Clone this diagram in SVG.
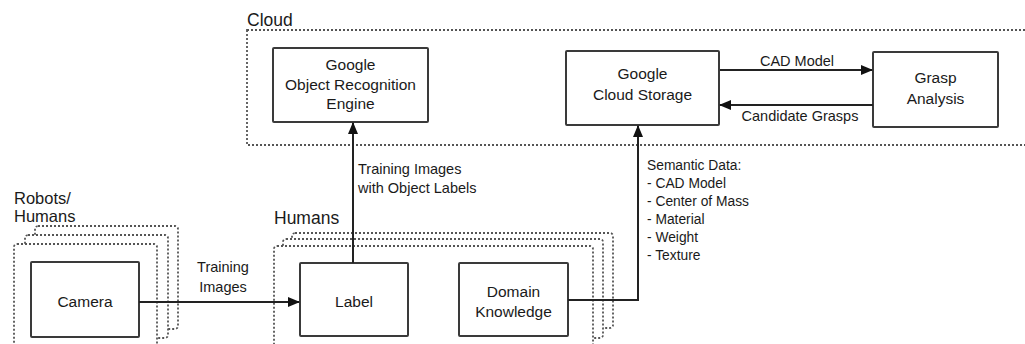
<svg xmlns="http://www.w3.org/2000/svg" width="1025" height="344" viewBox="0 0 1025 344">
<style>
text{font-family:"Liberation Sans",Arial,sans-serif;fill:#1a1a1a}
.box{fill:#fff;stroke:#3a3a3a;stroke-width:2}
.bt{font-size:15.5px;text-anchor:middle}
.lt{font-size:14.5px}
.hd{font-size:17.5px}
.dash{fill:#fff;stroke:#555;stroke-width:1.8;stroke-dasharray:2 2}
.con{fill:none;stroke:#222;stroke-width:2}
</style>
<defs>
<marker id="ah" markerWidth="12" markerHeight="10" refX="11" refY="5" orient="auto" markerUnits="userSpaceOnUse">
<path d="M0,0 L12,5 L0,10 Z" fill="#111"/>
</marker>
</defs>
<g id="cloud">
<rect class="dash" x="247" y="30" width="800" height="115" style="fill:none"/>
<text class="hd" x="247" y="26">Cloud</text>
</g>
<g id="robots-group">
<rect class="dash" x="35" y="226" width="143" height="103" rx="3"/>
<rect class="dash" x="25" y="235" width="143" height="103" rx="3"/>
<rect class="dash" x="14" y="244" width="143" height="110" rx="3"/>
<text class="hd" x="14" y="204" style="font-size:16.5px">Robots/</text>
<text class="hd" x="14" y="222" style="font-size:16.5px">Humans</text>
</g>
<g id="humans-group">
<rect class="dash" x="292" y="233" width="321" height="95" rx="3"/>
<rect class="dash" x="283" y="239" width="320" height="99" rx="3"/>
<rect class="dash" x="274" y="246" width="319" height="110" rx="3"/>
<text class="hd" x="274" y="224">Humans</text>
</g>
<g id="ore">
<rect class="box" x="273" y="48" width="155" height="74" rx="1"/>
<text class="bt" x="350.5" y="70">Google</text>
<text class="bt" x="350.5" y="90">Object Recognition</text>
<text class="bt" x="350.5" y="109">Engine</text>
</g>
<g id="storage">
<rect class="box" x="566" y="51" width="153" height="74" rx="1"/>
<text class="bt" x="642.5" y="79">Google</text>
<text class="bt" x="642.5" y="100">Cloud Storage</text>
</g>
<g id="grasp">
<rect class="box" x="873" y="52" width="125" height="75" rx="1"/>
<text class="bt" x="935.5" y="83">Grasp</text>
<text class="bt" x="935.5" y="104">Analysis</text>
</g>
<g id="camera">
<rect class="box" x="31" y="262" width="108" height="75" rx="1"/>
<text class="bt" x="85" y="307">Camera</text>
</g>
<g id="label">
<rect class="box" x="300" y="263" width="108" height="73" rx="1"/>
<text class="bt" x="354" y="307">Label</text>
</g>
<g id="domain">
<rect class="box" x="459" y="263" width="109" height="73" rx="1"/>
<text class="bt" x="513.5" y="297">Domain</text>
<text class="bt" x="513.5" y="317">Knowledge</text>
</g>
<g id="connectors">
<path class="con" d="M139,302 H299" marker-end="url(#ah)"/>
<path class="con" d="M353,263 V123" marker-end="url(#ah)"/>
<path class="con" d="M568,300 H638 V126" marker-end="url(#ah)"/>
<path class="con" d="M720,70 H872" marker-end="url(#ah)"/>
<path class="con" d="M873,105 H720" marker-end="url(#ah)"/>
<text class="lt" x="223" y="271.5" text-anchor="middle">Training</text>
<text class="lt" x="223" y="291.5" text-anchor="middle">Images</text>
<text class="lt" x="358" y="173.5">Training Images</text>
<text class="lt" x="358" y="192.5">with Object Labels</text>
<text class="lt" x="797" y="65.5" text-anchor="middle">CAD Model</text>
<text class="lt" x="800" y="121" text-anchor="middle">Candidate Grasps</text>
<g class="lt" style="font-size:13.8px">
<text x="647" y="170">Semantic Data:</text>
<text x="647" y="188">- CAD Model</text>
<text x="647" y="206">- Center of Mass</text>
<text x="647" y="224">- Material</text>
<text x="647" y="242">- Weight</text>
<text x="647" y="260">- Texture</text>
</g>
</g>
</svg>
